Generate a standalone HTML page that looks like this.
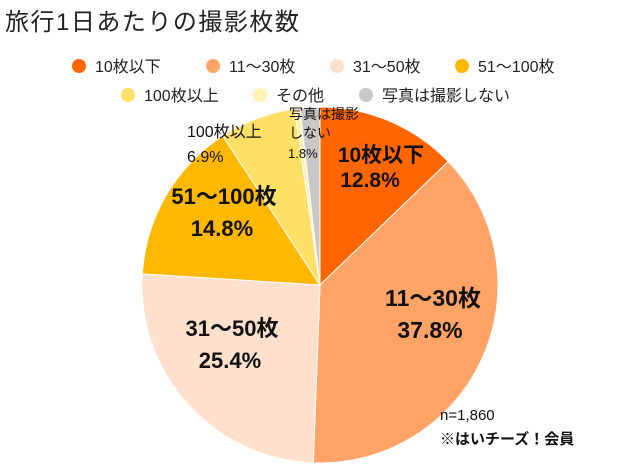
<!DOCTYPE html>
<html><head><meta charset="utf-8"><style>
body{margin:0;background:#fff;width:624px;height:468px;overflow:hidden;font-family:"Liberation Sans","Noto Sans CJK JP",sans-serif}
</style></head><body>
<svg id="s" width="624" height="468" xmlns="http://www.w3.org/2000/svg" style="font-family:'Liberation Sans','Noto Sans CJK JP',sans-serif">
<text x="5" y="30" font-size="24" letter-spacing="1.5" fill="#222">旅行1日あたりの撮影枚数</text>
<g font-size="16" fill="#222">
<circle cx="79" cy="66" r="7" fill="#FF6600"/><text x="95" y="72">10枚以下</text>
<circle cx="213" cy="66" r="7" fill="#FFA366"/><text x="229" y="72">11～30枚</text>
<circle cx="337" cy="66" r="7" fill="#FFE0CC"/><text x="353" y="72">31～50枚</text>
<circle cx="462" cy="66" r="7" fill="#FFB800"/><text x="478" y="72">51～100枚</text>
<circle cx="128" cy="95" r="7" fill="#FFE066"/><text x="144" y="101">100枚以上</text>
<circle cx="260" cy="95" r="7" fill="#FFF2B3"/><text x="276" y="101">その他</text>
<circle cx="366" cy="95" r="7" fill="#C8C8C8"/><text x="382" y="101">写真は撮影しない</text>
</g>
<g id="pie"></g>
<g fill="#111" font-weight="bold">
<text x="381" y="162" font-size="21" text-anchor="middle">10枚以下</text>
<text x="370" y="187" font-size="21" text-anchor="middle">12.8%</text>
<text x="433" y="306" font-size="23" text-anchor="middle">11～30枚</text>
<text x="430" y="338" font-size="23" text-anchor="middle">37.8%</text>
<text x="232" y="336" font-size="22" text-anchor="middle">31～50枚</text>
<text x="230" y="368" font-size="22" text-anchor="middle">25.4%</text>
<text x="224" y="204" font-size="22" text-anchor="middle">51～100枚</text>
<text x="222" y="236" font-size="22" text-anchor="middle">14.8%</text>
</g>
<g fill="#111">
<text x="187" y="137" font-size="16">100枚以上</text>
<text x="187" y="162" font-size="16">6.9%</text>
<text x="289" y="119" font-size="14">写真は撮影</text>
<text x="289" y="138" font-size="14">しない</text>
<text x="288" y="158" font-size="13">1.8%</text>
<text x="440" y="420" font-size="15">n=1,860</text>
<text x="440" y="444" font-size="15" font-weight="bold">※はいチーズ！会員</text>
</g>
</svg>
<script>
var cx=320,cy=285,r=178,d=[12.8,37.8,25.4,14.8,6.9,0.5,1.8],c=["#FF6600","#FFA366","#FFE0CC","#FFB800","#FFE066","#FFF2B3","#C8C8C8"],a=0,g=document.getElementById('pie'),h='';
for(var i=0;i<d.length;i++){var b=a+d[i]*3.6*Math.PI/180;
var x1=cx+r*Math.sin(a),y1=cy-r*Math.cos(a),x2=cx+r*Math.sin(b),y2=cy-r*Math.cos(b);
h+='<path d="M'+cx+' '+cy+'L'+x1+' '+y1+'A'+r+' '+r+' 0 '+(b-a>Math.PI?1:0)+' 1 '+x2+' '+y2+'Z" fill="'+c[i]+'" stroke="#fff" stroke-width="1"/>';a=b;}
g.innerHTML=h;
</script>
</body></html>
